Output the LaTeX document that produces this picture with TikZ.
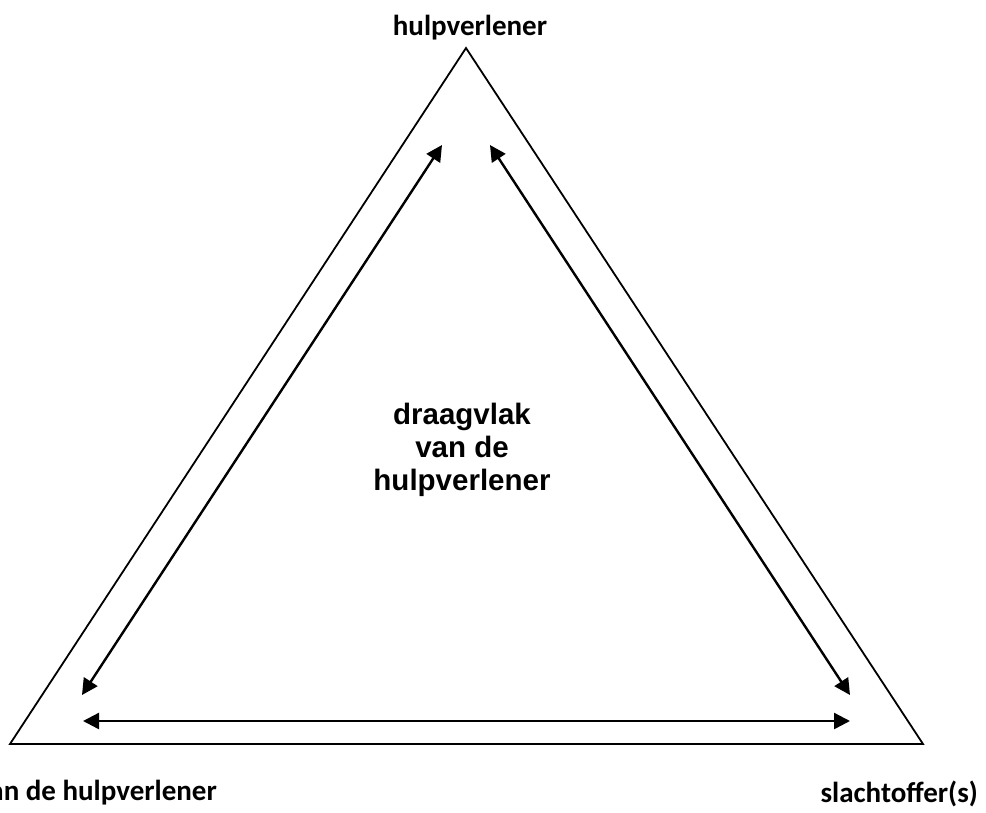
\documentclass[tikz,border=0pt]{standalone}
\usepackage{fontspec}
\setmainfont{Carlito}
\newfontfamily\arialfont{Liberation Sans}
\usetikzlibrary{arrows.meta}
\tikzset{
  tri/.style={line width=1.8pt, line join=miter},
  dbl/.style={line width=2.4pt, {Triangle[length=16pt,width=16pt]}-{Triangle[length=16pt,width=16pt]}},
  lbl/.style={font=\fontsize{29pt}{33pt}\selectfont\bfseries, inner sep=0pt},
  ctr/.style={font=\arialfont\fontsize{29.5pt}{33pt}\selectfont\bfseries, align=center, inner sep=0pt}
}
\begin{document}
\begin{tikzpicture}[x=1pt,y=-1pt]
\useasboundingbox (0,0) rectangle (986,812);
\coordinate (top) at (466,48);
\coordinate (bl) at (10,744);
\coordinate (br) at (923,744);
\draw[tri] (top) -- (bl) -- (br) -- cycle;
\coordinate (a1) at (442,145);
\coordinate (a2) at (82,695);
\coordinate (b1) at (490,145);
\coordinate (b2) at (850,695);
\coordinate (c1) at (83,721);
\coordinate (c2) at (850,721);
\draw[dbl] (a1) -- (a2);
\draw[dbl] (b1) -- (b2);
\draw[dbl] (c1) -- (c2);
\node[lbl, anchor=base] (ltop) at (470,35) {hulpverlener};
\node[lbl, anchor=base east] (lleft) at (217,800) {van de hulpverlener};
\node[lbl, anchor=base east] (lright) at (978,802) {slachtoffer(s)};
\node[ctr] (mid) at (462,450) {draagvlak\\van de\\hulpverlener};
\end{tikzpicture}
\end{document}
